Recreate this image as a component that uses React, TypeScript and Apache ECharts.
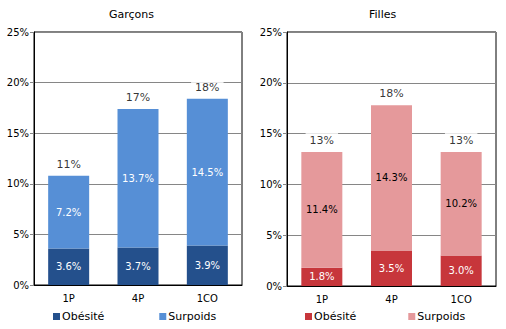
import React, { useEffect, useRef } from "react";
import * as echarts from "echarts";

const categories = ["1P", "4P", "1CO"];
const garconsObesite = [3.6, 3.7, 3.9];
const garconsSurpoids = [7.2, 13.7, 14.5];
const fillesObesite = [1.8, 3.5, 3.0];
const fillesSurpoids = [11.4, 14.3, 10.2];
const yTicks = [0, 5, 10, 15, 20, 25];
const titles = ["Garçons", "Filles"];
const legendNames = ["Obésité", "Surpoids"];

const FONT = "DejaVu Sans, Verdana, sans-serif";

export default function App() {
  const ref = useRef<HTMLDivElement>(null);
  useEffect(() => {
    if (!ref.current) return;
    const chart = echarts.init(ref.current, undefined, { renderer: "svg" });
    const sum = (a: number[], b: number[]) => a.map((v, i) => +(v + b[i]).toFixed(1));
    const grids = [
      { left: 34, top: 32, width: 208, height: 253 },
      { left: 287, top: 32, width: 209, height: 254 },
    ];
    const mkX = (gi: number) => ({
      type: "category",
      gridIndex: gi,
      data: categories,
      axisLine: { lineStyle: { color: "#000", width: 1 } },
      axisTick: { show: false },
      axisLabel: { color: "#000", fontSize: 10, fontFamily: FONT, margin: 8 },
    });
    const mkY = (gi: number) => ({
      type: "value",
      gridIndex: gi,
      min: yTicks[0],
      max: yTicks[yTicks.length - 1],
      interval: 5,
      axisLine: { show: true, lineStyle: { color: "#000", width: 1 } },
      axisTick: { show: true, length: 4, lineStyle: { color: "#868686" } },
      splitLine: { lineStyle: { color: "#868686", width: 1 } },
      axisLabel: {
        color: "#000",
        fontSize: 10,
        fontFamily: FONT,
        margin: 5,
        formatter: (v: number) => `${v}%`,
      },
    });
    const pct = (p: any) => `${Number(p.value).toFixed(1)}%`;
    const barSeries = (
      name: string,
      gi: number,
      data: number[],
      color: string,
      labelColor: string,
      stack: string
    ) => ({
      type: "bar",
      name,
      xAxisIndex: gi,
      yAxisIndex: gi,
      stack,
      data,
      barWidth: 41,
      itemStyle: { color },
      label: {
        show: true,
        position: "inside",
        color: labelColor,
        fontSize: 10,
        fontFamily: FONT,
        formatter: pct,
      },
    });
    const totalSeries = (gi: number, data: number[]) => ({
      type: "scatter",
      xAxisIndex: gi,
      yAxisIndex: gi,
      data,
      symbolSize: 0,
      silent: true,
      z: 10,
      label: {
        show: true,
        position: "top",
        distance: 4,
        color: "#000",
        fontSize: 11,
        fontFamily: FONT,
        backgroundColor: "#fff",
        padding: [2, 4, 2, 4],
        formatter: (p: any) => `${Math.round(p.value)}%`,
      },
    });
    const nameMap: Record<string, string> = {
      g_obe: legendNames[0],
      g_sur: legendNames[1],
      f_obe: legendNames[0],
      f_sur: legendNames[1],
    };
    chart.setOption({
      animation: false,
      backgroundColor: "#fff",
      title: [
        {
          text: titles[0],
          left: 109,
          top: 9,
          padding: 0,
          textStyle: { fontSize: 11, fontWeight: "normal", color: "#000", fontFamily: FONT },
        },
        {
          text: titles[1],
          left: 369,
          top: 9,
          padding: 0,
          textStyle: { fontSize: 11, fontWeight: "normal", color: "#000", fontFamily: FONT },
        },
      ],
      legend: [
        {
          data: ["g_obe", "g_sur"],
          left: 53,
          top: 311,
          padding: 0,
          itemWidth: 7,
          itemHeight: 7,
          itemGap: 55,
          icon: "rect",
          formatter: (n: string) => nameMap[n],
          textStyle: { fontSize: 11, color: "#000", fontFamily: FONT, padding: [0, 0, 0, -3] },
        },
        {
          data: ["f_obe", "f_sur"],
          left: 305,
          top: 311,
          padding: 0,
          itemWidth: 7,
          itemHeight: 7,
          itemGap: 52,
          icon: "rect",
          formatter: (n: string) => nameMap[n],
          textStyle: { fontSize: 11, color: "#000", fontFamily: FONT, padding: [0, 0, 0, -3] },
        },
      ],
      grid: grids.map((g) => ({
        ...g,
        show: true,
        borderColor: "#000",
        borderWidth: 1,
        backgroundColor: "transparent",
      })),
      xAxis: [mkX(0), mkX(1)],
      yAxis: [mkY(0), mkY(1)],
      series: [
        barSeries("g_obe", 0, garconsObesite, "#24508C", "#fff", "g"),
        barSeries("g_sur", 0, garconsSurpoids, "#568FD6", "#fff", "g"),
        totalSeries(0, sum(garconsObesite, garconsSurpoids)),
        barSeries("f_obe", 1, fillesObesite, "#C7363B", "#fff", "f"),
        barSeries("f_sur", 1, fillesSurpoids, "#E5999B", "#000", "f"),
        totalSeries(1, sum(fillesObesite, fillesSurpoids)),
      ],
    });
    return () => chart.dispose();
  }, []);
  return <div ref={ref} style={{ width: 506, height: 329, position: "absolute", left: 0, top: 0 }} />;
}
